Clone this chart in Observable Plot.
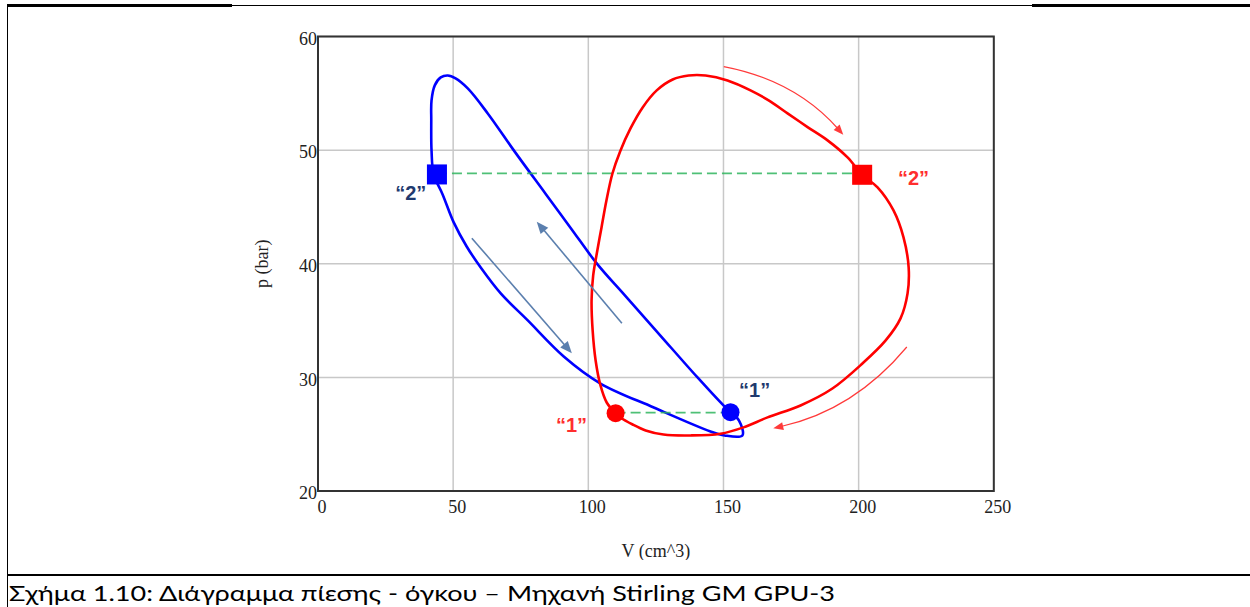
<!DOCTYPE html>
<html>
<head>
<meta charset="utf-8">
<script src="https://cdn.jsdelivr.net/npm/d3@7"></script>
<script src="https://cdn.jsdelivr.net/npm/@observablehq/plot@0.6"></script>
<style>
  html, body { margin: 0; padding: 0; background: #fff; }
  #page { position: relative; width: 1250px; height: 607px; overflow: hidden; background: #fff; }
  #chart { position: absolute; left: 0; top: 0; }
  .ln { position: absolute; background: #000; }
  #caption { position: absolute; left: 9px; top: 582px; font-family: Lato, "Open Sans", sans-serif; font-size: 21px; line-height: 21px; color: #000; white-space: nowrap; transform-origin: 0 0; }
</style>
</head>
<body>
<div id="page">
  <div class="ln" style="left:8px; top:4px; width:224px; height:2.5px;"></div>
  <div class="ln" style="left:232px; top:5px; width:800px; height:1px;"></div>
  <div class="ln" style="left:1032px; top:4px; width:218px; height:2.5px;"></div>
  <div class="ln" style="left:7px; top:4px; width:1px; height:603px;"></div>
  <div id="chart"></div>
  <div class="ln" style="left:7px; top:574px; width:1243px; height:2px;"></div>
  <div id="caption">Σχήμα 1.10: Διάγραμμα πίεσης - όγκου – Μηχανή Stirling GM GPU-3</div>
</div>
<script>
// Axis ticks
const xTicks = [0, 50, 100, 150, 200, 250];
const yTicks = [20, 30, 40, 50, 60];

// Blue loop (V in cm^3, p in bar)
const blueV = [152.6, 150.0, 140.4, 126.0, 113.2, 103.4, 93.6, 84.1, 72.7, 62.8, 55.4, 50.9, 48.0, 45.4, 43.2, 42.0, 41.9, 42.0, 42.8, 46.1, 50.2, 55.0, 60.2, 67.6, 77.6, 90.9, 104.5, 124.2, 145.2, 150.4, 157.0, 155.7, 152.6];
const blueP = [26.94, 27.53, 29.99, 33.86, 37.30, 39.94, 43.11, 46.19, 49.89, 53.23, 55.43, 56.31, 56.57, 56.40, 55.70, 54.38, 52.62, 49.97, 47.86, 46.10, 43.64, 41.52, 39.67, 37.39, 35.01, 31.84, 29.46, 27.35, 25.24, 24.89, 24.89, 26.21, 26.94];

// Red loop
const redV = [110.1, 106.8, 104.5, 102.7, 101.6, 101.2, 101.8, 103.0, 104.9, 106.7, 108.9, 111.8, 115.6, 120.1, 125.3, 131.2, 137.1, 143.4, 151.5, 160.0, 166.7, 173.7, 181.1, 188.5, 195.9, 201.3, 207.0, 212.9, 216.6, 218.5, 218.1, 215.5, 210.0, 201.4, 190.3, 178.5, 166.3, 157.4, 148.9, 137.8, 127.8, 121.2, 116.4, 111.9, 110.1];
const redP = [26.85, 27.79, 29.29, 31.49, 34.13, 36.77, 38.97, 40.73, 43.22, 45.57, 47.92, 49.91, 51.91, 53.76, 55.26, 56.22, 56.57, 56.57, 56.13, 55.26, 54.38, 53.24, 52.03, 50.86, 49.36, 47.83, 46.72, 44.69, 42.32, 39.68, 37.39, 35.19, 33.25, 31.22, 29.02, 27.53, 26.48, 25.60, 25.04, 24.89, 24.97, 25.33, 25.85, 26.47, 26.85];

// State points "1" and "2"
const pointSeries = ["blue", "blue", "red", "red"];
const pointV = [152.6, 44.0, 110.1, 201.3];
const pointP = [26.94, 47.86, 26.85, 47.83];
const pointShape = ["circle", "square", "circle", "square"];

// Labels for state points
const labelText = ["“1”", "“2”", "“1”", "“2”"];
const labelV = [161.5, 34.3, 93.8, 220.3];
const labelP = [28.8, 46.2, 25.72, 47.46];

// Green dashed connectors (p constant)
const dashV1 = [44.0, 110.1];
const dashV2 = [201.3, 152.6];
const dashP = [47.95, 26.9];

// Direction arrows
const arrowSeries = ["red", "red", "steel", "steel"];
const arrowV1 = [150.3, 218.0, 57.1, 112.6];
const arrowP1 = [57.31, 32.63, 42.2, 34.72];
const arrowV2 = [194.5, 168.6, 94.1, 81.1];
const arrowP2 = [51.31, 25.48, 32.08, 43.66];

const blue = blueV.map((v, i) => ({V: v, p: blueP[i]}));
const red = redV.map((v, i) => ({V: v, p: redP[i]}));
const pts = pointV.map((v, i) => ({V: v, p: pointP[i], s: pointSeries[i], shape: pointShape[i]}));
const labels = labelV.map((v, i) => ({V: v, p: labelP[i], t: labelText[i], s: pointSeries[i]}));
const dashes = dashP.map((p, i) => ({V1: dashV1[i], V2: dashV2[i], p}));
const arrows = arrowV1.map((v, i) => ({V1: v, p1: arrowP1[i], V2: arrowV2[i], p2: arrowP2[i], s: arrowSeries[i]}));

const colors = {blue: "#0000ff", red: "#ff0000"};
const labelColors = {blue: "#1f3a6e", red: "#ff2e2e"};
const arrowStyle = {red: {color: "#ff3a3a", width: 1.2, bend: 0.17, hl: 10, hw: 4}, steel: {color: "#5b7fae", width: 1.6, bend: 0, hl: 12, hw: 5}};

function arrowMark(index, scales) {
  const g = d3.create("svg:g");
  for (const a of arrows) {
    const st = arrowStyle[a.s];
    const x1 = scales.x(a.V1), y1 = scales.y(a.p1), x2 = scales.x(a.V2), y2 = scales.y(a.p2);
    const dx = x2 - x1, dy = y2 - y1;
    const cx = (x1 + x2) / 2 + dy * st.bend, cy = (y1 + y2) / 2 - dx * st.bend;
    let tx = x2 - cx, ty = y2 - cy; const tl = Math.hypot(tx, ty); tx /= tl; ty /= tl;
    const bx = x2 - tx * st.hl, by = y2 - ty * st.hl;
    g.append("path").attr("d", `M${x1},${y1}Q${cx},${cy} ${bx + tx * 2},${by + ty * 2}`)
      .attr("fill", "none").attr("stroke", st.color).attr("stroke-width", st.width);
    g.append("path").attr("d", `M${x2},${y2}L${bx - ty * st.hw},${by + tx * st.hw}L${bx + ty * st.hw},${by - tx * st.hw}Z`)
      .attr("fill", st.color);
  }
  return g.node();
}

const chart = Plot.plot({
  width: 1250,
  height: 560,
  marginLeft: 317.5,
  marginRight: 256.7,
  marginTop: 36,
  marginBottom: 69.5,
  style: {fontFamily: "'Liberation Serif', 'Times New Roman', serif", fontSize: "18px", color: "#222", background: "transparent"},
  x: {domain: [0, 250], ticks: xTicks, tickSize: 0, tickPadding: 9, label: "V (cm^3)", labelArrow: "none", labelAnchor: "center", labelOffset: 66},
  y: {domain: [20, 60], ticks: yTicks, tickSize: 0, tickPadding: 1, label: "p (bar)", labelArrow: "none", labelAnchor: "center", labelOffset: 63},
  marks: [
    Plot.ruleX(xTicks, {stroke: "#c8c8c8", strokeWidth: 1.5}),
    Plot.ruleY(yTicks, {stroke: "#c8c8c8", strokeWidth: 1.5}),
    Plot.line(blue, {x: "V", y: "p", stroke: colors.blue, strokeWidth: 2.6, curve: "catmull-rom"}),
    Plot.link(dashes, {x1: "V1", x2: "V2", y1: "p", y2: "p", stroke: "#2fb55e", strokeWidth: 1.6, strokeDasharray: "10,5", strokeOpacity: 0.85}),
    Plot.line(red, {x: "V", y: "p", stroke: colors.red, strokeWidth: 2.6, curve: "catmull-rom"}),
    arrowMark,
    Plot.dot(pts.filter(d => d.shape === "square"), {x: "V", y: "p", symbol: "square", r: 11.3, fill: d => colors[d.s], stroke: "none"}),
    Plot.dot(pts.filter(d => d.shape === "circle"), {x: "V", y: "p", symbol: "circle", r: 9, fill: d => colors[d.s], stroke: "none"}),
    Plot.text(labels, {x: "V", y: "p", text: "t", fill: d => labelColors[d.s], fontFamily: "'Liberation Sans', Arial, sans-serif", fontWeight: "bold", fontSize: 20}),
    Plot.frame({stroke: "#333", strokeWidth: 2})
  ]
});
document.getElementById("chart").appendChild(chart);
// nudge tick labels like the original (slightly right of x ticks, slightly below y ticks)
d3.select(chart).selectAll("[aria-label='x-axis tick label'] text").attr("dx", 4);
d3.select(chart).selectAll("[aria-label='y-axis tick label'] text").attr("dy", 2.5);

const cap = document.getElementById("caption");
const w = cap.getBoundingClientRect().width;
cap.style.transform = `scaleX(${826 / w})`;
</script>
</body>
</html>
